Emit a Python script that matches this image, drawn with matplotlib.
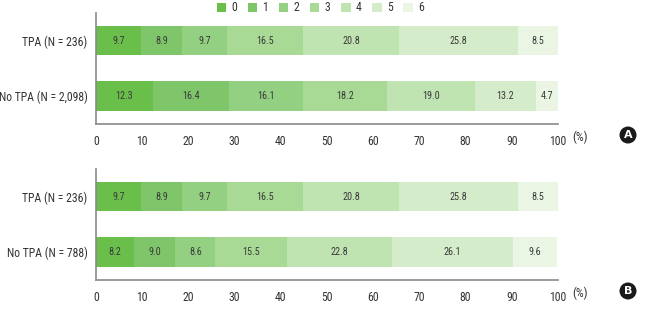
import numpy as np
import matplotlib.pyplot as plt
from matplotlib.patches import Patch, Circle

plt.rcParams['font.family'] = ['Roboto Condensed', 'DejaVu Sans']

# data
scores = ["0", "1", "2", "3", "4", "5", "6"]
colors = ["#6abf4b", "#7fc66a", "#93d081", "#a8d995", "#bfe3b1", "#d4ecca", "#eaf5e4"]

groups_a = ["No TPA (N = 2,098)", "TPA (N = 236)"]
tpa = [9.7, 8.9, 9.7, 16.5, 20.8, 25.8, 8.5]
no_tpa_a = [12.3, 16.4, 16.1, 18.2, 19.0, 13.2, 4.7]

groups_b = ["No TPA (N = 788)", "TPA (N = 236)"]
no_tpa_b = [8.2, 9.0, 8.6, 15.5, 22.8, 26.1, 9.6]

xticks = [0, 10, 20, 30, 40, 50, 60, 70, 80, 90, 100]

fig = plt.figure(figsize=(6.47, 3.09), dpi=100)
axA = fig.add_axes([0.1484, 0.5987, 0.714, 0.359])
axB = fig.add_axes([0.1484, 0.0939, 0.714, 0.359])


def draw(ax, labels, rows, letter):
    for yi, vals in enumerate(rows):
        left = 0
        for k, v in enumerate(vals):
            ax.barh(yi, v, left=left, height=0.53, color=colors[k], edgecolor='none')
            ax.text(left + v / 2, yi, f"{v:.1f}", ha='center', va='center',
                    fontsize=7.3, color='#3a3a3a')
            left += v
    ax.set_xlim(0, 100)
    ax.set_ylim(-0.505, 1.495)
    ax.set_yticks(range(len(labels)))
    ax.set_yticklabels(labels, fontsize=8.5, color='#333333')
    ax.set_xticks(xticks)
    ax.set_xticklabels([str(t) for t in xticks], fontsize=8.5, color='#333333')
    ax.tick_params(length=0, pad=6)
    ax.tick_params(axis='x', pad=8)
    for s in ['top', 'right']:
        ax.spines[s].set_visible(False)
    for s in ['left', 'bottom']:
        ax.spines[s].set_color('#8a8a8a')
        ax.spines[s].set_linewidth(1.2)
    ax.text(104.8, -0.74, "(%)", fontsize=9, color='#333333', ha='center', va='center',
            transform=ax.transData, clip_on=False)
    pos = ax.get_position()
    cx, cy = 628 / 647, pos.y0 - 11 / 309
    fig.patches.append(Circle((cx * 647, cy * 309), 8.5, transform=None,
                              facecolor='#1a1a1a', edgecolor='none'))
    fig.text(cx, cy, letter, ha='center', va='center', fontsize=8,
             fontweight='bold', color='white', family='DejaVu Sans')


draw(axA, groups_a, [no_tpa_a, tpa], "A")
draw(axB, groups_b, [no_tpa_b, tpa], "B")

handles = [Patch(facecolor=c, edgecolor='none') for c in colors]
fig.legend(handles, scores, loc='center', bbox_to_anchor=(0.495, 0.975), ncol=7,
           frameon=False, fontsize=8.5, handlelength=0.8, handleheight=0.8,
           handletextpad=0.45, columnspacing=0.9, labelcolor='#333333')

plt.savefig("out.png", dpi=100)
